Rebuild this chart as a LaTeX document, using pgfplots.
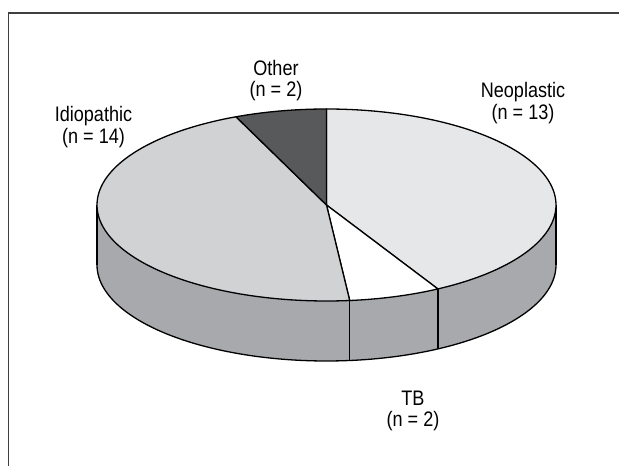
\documentclass[border=0pt]{standalone}
\usepackage{pgfplots}
\pgfplotsset{compat=1.18}
\usepackage{fontspec}
\setmainfont[FakeStretch=0.86]{Liberation Sans}
\definecolor{neo}{HTML}{E6E7E8}
\definecolor{idio}{HTML}{D1D2D4}
\definecolor{oth}{HTML}{58595B}
\definecolor{side}{HTML}{A7A9AC}
\definecolor{frame}{HTML}{404040}
\tikzset{lbl/.style={font=\fontsize{21}{21}\selectfont, anchor=base, inner sep=0pt}}
% data
\def\vNeo{13}\def\vTB{2}\def\vIdio{14}\def\vOth{2}
% geometry (1 unit = 1pt)
\def\cx{326.5}\def\cy{261}\def\ra{229.5}\def\rb{96}\def\dd{60}
\pgfmathsetmacro{\tot}{\vNeo+\vTB+\vIdio+\vOth}
\pgfmathsetmacro{\tO}{90}
\pgfmathsetmacro{\tA}{\tO-360*\vNeo/\tot}
\pgfmathsetmacro{\tB}{\tA-360*\vTB/\tot}
\pgfmathsetmacro{\tC}{\tB-360*\vIdio/\tot}
\pgfmathsetmacro{\tD}{\tC-360*\vOth/\tot}
\pgfmathsetmacro{\xl}{\cx-\ra}
\pgfmathsetmacro{\xr}{\cx+\ra}
\pgfmathsetmacro{\yb}{\cy-\dd}
\pgfmathsetmacro{\xA}{\cx+\ra*cos(\tA)}
\pgfmathsetmacro{\yA}{\cy+\rb*sin(\tA)}
\pgfmathsetmacro{\yAb}{\yA-\dd}
\pgfmathsetmacro{\xB}{\cx+\ra*cos(\tB)}
\pgfmathsetmacro{\yB}{\cy+\rb*sin(\tB)}
\pgfmathsetmacro{\yBb}{\yB-\dd}
\begin{document}
\begin{tikzpicture}
\begin{axis}[
  scale only axis, width=619pt, height=466pt,
  xmin=0, xmax=619, ymin=0, ymax=466,
  axis lines=none, clip=false,
  every axis plot/.append style={line join=round},
]
% frame
\draw[frame, line width=1.5pt] (axis cs:8.5,0) -- (axis cs:8.5,453) -- (axis cs:619,453);
% side wall
\addplot[fill=side, draw=none, domain=0:360, samples=120, variable=\t]
  ({\cx+\ra*cos(\t)},{\cy-\dd+\rb*sin(\t)}) -- cycle;
\addplot[fill=side, draw=none] coordinates {(\xl,\cy) (\xr,\cy) (\xr,\yb) (\xl,\yb)} -- cycle;
\addplot[black, line width=1.3pt, domain=-180:0, samples=100, variable=\t]
  ({\cx+\ra*cos(\t)},{\cy-\dd+\rb*sin(\t)});
\addplot[black, line width=1.3pt] coordinates {(\xl,\cy) (\xl,\yb)};
\addplot[black, line width=1.3pt] coordinates {(\xr,\cy) (\xr,\yb)};
\addplot[black, line width=1.3pt] coordinates {(\xA,\yA) (\xA,\yAb)};
\addplot[black, line width=1.3pt] coordinates {(\xB,\yB) (\xB,\yBb)};
% top slices
\addplot[fill=neo, draw=black, line width=1.3pt, domain=\tA:\tO, samples=100, variable=\t]
  ({\cx+\ra*cos(\t)},{\cy+\rb*sin(\t)}) -- (axis cs:\cx,\cy) -- cycle;
\addplot[fill=white, draw=black, line width=1.3pt, domain=\tB:\tA, samples=30, variable=\t]
  ({\cx+\ra*cos(\t)},{\cy+\rb*sin(\t)}) -- (axis cs:\cx,\cy) -- cycle;
\addplot[fill=idio, draw=black, line width=1.3pt, domain=\tC:\tB, samples=100, variable=\t]
  ({\cx+\ra*cos(\t)},{\cy+\rb*sin(\t)}) -- (axis cs:\cx,\cy) -- cycle;
\addplot[fill=oth, draw=black, line width=1.3pt, domain=\tD:\tC, samples=30, variable=\t]
  ({\cx+\ra*cos(\t)},{\cy+\rb*sin(\t)}) -- (axis cs:\cx,\cy) -- cycle;
% labels
\node[lbl] at (axis cs:93.5,344.3) {Idiopathic};
\node[lbl] at (axis cs:93.5,322.7) {(n = 14)};
\node[lbl] at (axis cs:276,390) {Other};
\node[lbl] at (axis cs:276,369.3) {(n = 2)};
\node[lbl] at (axis cs:523,368.3) {Neoplastic};
\node[lbl] at (axis cs:523,346) {(n = 13)};
\node[lbl] at (axis cs:413,60) {TB};
\node[lbl] at (axis cs:413,39.3) {(n = 2)};
\end{axis}
\pgfresetboundingbox
\path (current axis.south west) rectangle (current axis.north east);
\end{tikzpicture}
\end{document}
